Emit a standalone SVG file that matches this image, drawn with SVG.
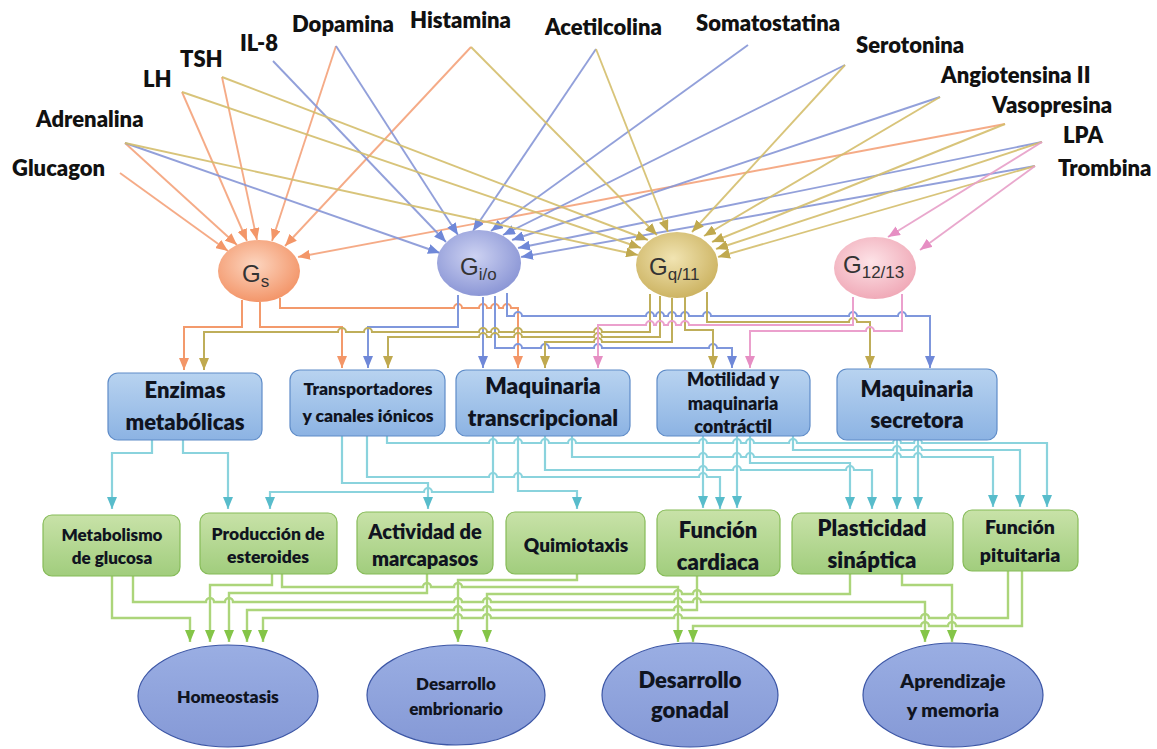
<svg xmlns="http://www.w3.org/2000/svg" width="1157" height="749" viewBox="0 0 1157 749">
<defs>
<style>
.lig{font-family:Lato,"Liberation Sans",sans-serif;font-weight:800;font-size:22px;fill:#111}
.gp{font-family:"Liberation Sans",Arial,sans-serif;font-size:24px;fill:#333}
.bt{font-family:Lato,"Liberation Sans",sans-serif;font-weight:800;fill:#10141f;text-anchor:middle}
.mbox{fill:url(#gBlue);stroke:#5f8cc8;stroke-width:1.2}
.gbox{fill:url(#gGreen);stroke:#86bb58;stroke-width:1.2}
.oval{fill:url(#gOval);stroke:#3d57a6;stroke-width:1.2}
.top path{fill:none;stroke-width:1.9;stroke-opacity:0.9}
.to{stroke:#f4a27a}
.tb{stroke:#8696d6}
.tq{stroke:#d4be6c}
.tp{stroke:#e79fc8}
.out path{fill:none;stroke-width:2}
.oo{stroke:#f39a6c}
.ob{stroke:#7f97dc}
.oq{stroke:#bfae5a}
.op{stroke:#eba0cd}
.teal path{fill:none;stroke:#8ad3dd;stroke-width:2.2}
.grn path{fill:none;stroke:#acd57a;stroke-width:2.4}
</style>
<linearGradient id="gBlue" x1="0" y1="0" x2="0" y2="1"><stop offset="0" stop-color="#b8d3f0"/><stop offset="1" stop-color="#8cb3e3"/></linearGradient>
<linearGradient id="gGreen" x1="0" y1="0" x2="0" y2="1"><stop offset="0" stop-color="#c8e2a8"/><stop offset="1" stop-color="#a1cd7d"/></linearGradient>
<linearGradient id="gOval" x1="0" y1="0" x2="0" y2="1"><stop offset="0" stop-color="#9aaee3"/><stop offset="1" stop-color="#8599d6"/></linearGradient>
<radialGradient id="rGs" cx="0.45" cy="0.4" r="0.6"><stop offset="0" stop-color="#fcd5bf"/><stop offset="1" stop-color="#f3966a"/></radialGradient>
<radialGradient id="rGi" cx="0.45" cy="0.4" r="0.6"><stop offset="0" stop-color="#cdd2f2"/><stop offset="1" stop-color="#8c97d6"/></radialGradient>
<radialGradient id="rGq" cx="0.45" cy="0.4" r="0.6"><stop offset="0" stop-color="#f1e4b2"/><stop offset="1" stop-color="#cdb463"/></radialGradient>
<radialGradient id="rG12" cx="0.45" cy="0.4" r="0.6"><stop offset="0" stop-color="#fde3e7"/><stop offset="1" stop-color="#f0aab8"/></radialGradient>
<marker id="aO" viewBox="0 0 12 10" refX="12" refY="5" markerWidth="12" markerHeight="10" markerUnits="userSpaceOnUse" orient="auto"><path d="M0,0 L12,5 L0,10 z" fill="#f39668"/></marker>
<marker id="aB" viewBox="0 0 12 10" refX="12" refY="5" markerWidth="12" markerHeight="10" markerUnits="userSpaceOnUse" orient="auto"><path d="M0,0 L12,5 L0,10 z" fill="#6f88d8"/></marker>
<marker id="aQ" viewBox="0 0 12 10" refX="12" refY="5" markerWidth="12" markerHeight="10" markerUnits="userSpaceOnUse" orient="auto"><path d="M0,0 L12,5 L0,10 z" fill="#c0a94f"/></marker>
<marker id="aP" viewBox="0 0 12 10" refX="12" refY="5" markerWidth="12" markerHeight="10" markerUnits="userSpaceOnUse" orient="auto"><path d="M0,0 L12,5 L0,10 z" fill="#e68ec3"/></marker>
<marker id="aT" viewBox="0 0 12 10" refX="12" refY="5" markerWidth="12" markerHeight="10" markerUnits="userSpaceOnUse" orient="auto"><path d="M0,0 L12,5 L0,10 z" fill="#58bccb"/></marker>
<marker id="aG" viewBox="0 0 12 10" refX="12" refY="5" markerWidth="12" markerHeight="10" markerUnits="userSpaceOnUse" orient="auto"><path d="M0,0 L12,5 L0,10 z" fill="#84c548"/></marker>
</defs>
<rect width="1157" height="749" fill="#ffffff"/>

<g id="connectors">
 <g class="top">
  <path class="to" d="M120,173 L228,251" marker-end="url(#aO)"/>
  <path class="to" d="M125,143 L237,245" marker-end="url(#aO)"/>
  <path class="to" d="M182,92 L247,241" marker-end="url(#aO)"/>
  <path class="to" d="M222,77 L257,240" marker-end="url(#aO)"/>
  <path class="to" d="M336,46 L272,241" marker-end="url(#aO)"/>
  <path class="to" d="M471,47 L285,246" marker-end="url(#aO)"/>
  <path class="to" d="M1005,124 L298,257" marker-end="url(#aO)"/>
  <path class="tb" d="M125,143 L440,253" marker-end="url(#aB)"/>
  <path class="tb" d="M273,61 L446,242" marker-end="url(#aB)"/>
  <path class="tb" d="M336,46 L458,235" marker-end="url(#aB)"/>
  <path class="tb" d="M596,49 L473,231" marker-end="url(#aB)"/>
  <path class="tb" d="M748,45 L491,231" marker-end="url(#aB)"/>
  <path class="tb" d="M845,65 L503,235" marker-end="url(#aB)"/>
  <path class="tb" d="M940,97 L512,240" marker-end="url(#aB)"/>
  <path class="tb" d="M1042,142 L518,248" marker-end="url(#aB)"/>
  <path class="tb" d="M1035,166 L521,257" marker-end="url(#aB)"/>
  <path class="tq" d="M125,143 L638,255" marker-end="url(#aQ)"/>
  <path class="tq" d="M182,92 L641,248" marker-end="url(#aQ)"/>
  <path class="tq" d="M222,77 L648,240" marker-end="url(#aQ)"/>
  <path class="tq" d="M471,47 L657,235" marker-end="url(#aQ)"/>
  <path class="tq" d="M596,49 L668,232" marker-end="url(#aQ)"/>
  <path class="tq" d="M845,65 L692,232" marker-end="url(#aQ)"/>
  <path class="tq" d="M940,97 L704,236" marker-end="url(#aQ)"/>
  <path class="tq" d="M1005,124 L712,242" marker-end="url(#aQ)"/>
  <path class="tq" d="M1042,142 L716,249" marker-end="url(#aQ)"/>
  <path class="tq" d="M1035,166 L718,257" marker-end="url(#aQ)"/>
  <path class="tp" d="M1042,142 L888,237" marker-end="url(#aP)"/>
  <path class="tp" d="M1035,166 L920,250" marker-end="url(#aP)"/>
 </g>
 <g class="out">
  <path class="oo" d="M242,300 V327 H184 V370" marker-end="url(#aO)"/>
  <path class="oo" d="M260,302 V327 H342 V368" marker-end="url(#aO)"/>
  <path class="oo" d="M280,298 V308 H454 a4,4 0 0 1 8,0 H479 a4,4 0 0 1 8,0 H491 a4,4 0 0 1 8,0 H503 a4,4 0 0 1 8,0 H518 V368" marker-end="url(#aO)"/>
  <path class="ob" d="M458,295 V327 H368 V368" marker-end="url(#aB)"/>
  <path class="ob" d="M483,297 V368" marker-end="url(#aB)"/>
  <path class="ob" d="M495,296 V348 H514 a4,4 0 0 1 8,0 H541 a4,4 0 0 1 8,0 H594 a4,4 0 0 1 8,0 H709 a4,4 0 0 1 8,0 H732 V368" marker-end="url(#aB)"/>
  <path class="ob" d="M507,293 V316 H514 a4,4 0 0 1 8,0 H646 a4,4 0 0 1 8,0 H656 a4,4 0 0 1 8,0 H668 a4,4 0 0 1 8,0 H681 a4,4 0 0 1 8,0 H703 a4,4 0 0 1 8,0 H849 a4,4 0 0 1 8,0 H898 a4,4 0 0 1 8,0 H930 V368" marker-end="url(#aB)"/>
  <path class="oq" d="M650,294 V332 H602 a4,4 0 0 0 -8,0 H522 a4,4 0 0 0 -8,0 H499 a4,4 0 0 0 -8,0 H487 a4,4 0 0 0 -8,0 H372 a4,4 0 0 0 -8,0 H346 a4,4 0 0 0 -8,0 H204 V370" marker-end="url(#aQ)"/>
  <path class="oq" d="M660,296 V337 H602 a4,4 0 0 0 -8,0 H522 a4,4 0 0 0 -8,0 H499 a4,4 0 0 0 -8,0 H487 a4,4 0 0 0 -8,0 H388 V368" marker-end="url(#aQ)"/>
  <path class="oq" d="M672,298 V342 H602 a4,4 0 0 0 -8,0 H545 V368" marker-end="url(#aQ)"/>
  <path class="oq" d="M685,297 V330 H713 V368" marker-end="url(#aQ)"/>
  <path class="oq" d="M707,292 V322 H849 a4,4 0 0 1 8,0 H870 V368" marker-end="url(#aQ)"/>
  <path class="op" d="M853,297 V325 H689 a4,4 0 0 0 -8,0 H676 a4,4 0 0 0 -8,0 H664 a4,4 0 0 0 -8,0 H654 a4,4 0 0 0 -8,0 H598 V368" marker-end="url(#aP)"/>
  <path class="op" d="M902,294 V331 H874 a4,4 0 0 0 -8,0 H750 V368" marker-end="url(#aP)"/>
 </g>
 <g class="teal">
  <path d="M152,440 V453 H112 V509" marker-end="url(#aT)"/>
  <path d="M183,440 V453 H228 V509" marker-end="url(#aT)"/>
  <path d="M493,436 V492 H432 a4,4 0 0 0 -8,0 H270 V509" marker-end="url(#aT)"/>
  <path d="M342,436 V483 H428 V509" marker-end="url(#aT)"/>
  <path d="M367,436 V477 H489 a4,4 0 0 1 8,0 H514 a4,4 0 0 1 8,0 H699 a4,4 0 0 1 8,0 H720 V509" marker-end="url(#aT)"/>
  <path d="M387,436 V443 H489 a4,4 0 0 1 8,0 H514 a4,4 0 0 1 8,0 H541 a4,4 0 0 1 8,0 H568 a4,4 0 0 1 8,0 H699 a4,4 0 0 1 8,0 H733 a4,4 0 0 1 8,0 H746 a4,4 0 0 1 8,0 H789 a4,4 0 0 1 8,0 H893 a4,4 0 0 1 8,0 H914 a4,4 0 0 1 8,0 H1047 V507" marker-end="url(#aT)"/>
  <path d="M518,436 V491 H577 V509" marker-end="url(#aT)"/>
  <path d="M545,436 V470 H699 a4,4 0 0 1 8,0 H733 a4,4 0 0 1 8,0 H846 a4,4 0 0 1 8,0 H872 V509" marker-end="url(#aT)"/>
  <path d="M572,436 V457 H699 a4,4 0 0 1 8,0 H733 a4,4 0 0 1 8,0 H746 a4,4 0 0 1 8,0 H893 a4,4 0 0 1 8,0 H914 a4,4 0 0 1 8,0 H993 V507" marker-end="url(#aT)"/>
  <path d="M703,436 V508" marker-end="url(#aT)"/>
  <path d="M737,436 V508" marker-end="url(#aT)"/>
  <path d="M750,436 V463 H850 V509" marker-end="url(#aT)"/>
  <path d="M793,436 V450 H893 a4,4 0 0 1 8,0 H914 a4,4 0 0 1 8,0 H1020 V507" marker-end="url(#aT)"/>
  <path d="M897,440 V509" marker-end="url(#aT)"/>
  <path d="M918,440 V509" marker-end="url(#aT)"/>
 </g>
 <g class="grn">
  <path d="M112,576 V618 H190 V642" marker-end="url(#aG)"/>
  <path d="M272,574 V585 H210 V642" marker-end="url(#aG)"/>
  <path d="M427,574 V593 H229 V642" marker-end="url(#aG)"/>
  <path d="M697,576 V610 H682 a4,4 0 0 0 -8,0 H491 a4,4 0 0 0 -8,0 H462 a4,4 0 0 0 -8,0 H247 V642" marker-end="url(#aG)"/>
  <path d="M1008,571 V618 H956 a4,4 0 0 0 -8,0 H929 a4,4 0 0 0 -8,0 H682 a4,4 0 0 0 -8,0 H491 a4,4 0 0 0 -8,0 H462 a4,4 0 0 0 -8,0 H263 V642" marker-end="url(#aG)"/>
  <path d="M577,574 V580 H458 V642" marker-end="url(#aG)"/>
  <path d="M850,574 V594 H701 a4,4 0 0 0 -8,0 H682 a4,4 0 0 0 -8,0 H487 V642" marker-end="url(#aG)"/>
  <path d="M282,574 V587 H423 a4,4 0 0 1 8,0 H454 a4,4 0 0 1 8,0 H678 V642" marker-end="url(#aG)"/>
  <path d="M1022,571 V626 H956 a4,4 0 0 0 -8,0 H929 a4,4 0 0 0 -8,0 H693 V642" marker-end="url(#aG)"/>
  <path d="M133,576 V602 H206 a4,4 0 0 1 8,0 H225 a4,4 0 0 1 8,0 H454 a4,4 0 0 1 8,0 H483 a4,4 0 0 1 8,0 H674 a4,4 0 0 1 8,0 H693 a4,4 0 0 1 8,0 H925 V642" marker-end="url(#aG)"/>
  <path d="M902,574 V585 H952 V642" marker-end="url(#aG)"/>
 </g>
</g>

<g id="ligands">
 <text id="glucagon" class="lig" x="12" y="176">Glucagon</text>
 <text id="adrenalina" class="lig" x="36" y="127">Adrenalina</text>
 <text id="lh" class="lig" x="143" y="87">LH</text>
 <text id="tsh" class="lig" x="180" y="67">TSH</text>
 <text id="il8" class="lig" x="240" y="51">IL-8</text>
 <text id="dopamina" class="lig" x="292" y="32" font-size="18.5">Dopamina</text>
 <text id="histamina" class="lig" x="410" y="28">Histamina</text>
 <text id="acetilcolina" class="lig" x="545" y="35">Acetilcolina</text>
 <text id="somatostatina" class="lig" x="696" y="31" font-size="18.5">Somatostatina</text>
 <text id="serotonina" class="lig" x="856" y="53">Serotonina</text>
 <text id="angiotensina" class="lig" x="941" y="83">Angiotensina II</text>
 <text id="vasopresina" class="lig" x="992" y="113">Vasopresina</text>
 <text id="lpa" class="lig" x="1063" y="143">LPA</text>
 <text id="trombina" class="lig" x="1058" y="176">Trombina</text>
</g>

<g id="Gs"><ellipse cx="259" cy="271" rx="41" ry="31" fill="url(#rGs)"/><text class="gp" x="242" y="282">G<tspan font-size="17" dy="5">s</tspan></text></g>
<g id="Gio"><ellipse cx="479" cy="263" rx="42" ry="33" fill="url(#rGi)"/><text class="gp" x="460" y="275">G<tspan font-size="17" dy="5">i/o</tspan></text></g>
<g id="Gq11"><ellipse cx="677" cy="265" rx="41" ry="33" fill="url(#rGq)"/><text class="gp" x="649" y="275">G<tspan font-size="17" dy="5">q/11</tspan></text></g>
<g id="G1213"><ellipse cx="875" cy="268" rx="41" ry="31" fill="url(#rG12)"/><text class="gp" x="843" y="273">G<tspan font-size="17" dy="5">12/13</tspan></text></g>

<g id="enzimas"><rect class="mbox" x="108" y="373" width="154" height="67" rx="10"/><text class="bt" font-size="22" x="185" y="398">Enzimas</text><text class="bt" font-size="22" x="185" y="430">metabólicas</text></g>
<g id="transportadores"><rect class="mbox" x="290" y="370" width="155" height="66" rx="10"/><text class="bt" font-size="17.5" x="368" y="395">Transportadores</text><text class="bt" font-size="17.5" x="368" y="422">y canales iónicos</text></g>
<g id="transcripcional"><rect class="mbox" x="456" y="370" width="174" height="66" rx="10"/><text class="bt" font-size="22.5" x="543" y="394">Maquinaria</text><text class="bt" font-size="22.5" x="543" y="426">transcripcional</text></g>
<g id="motilidad"><rect class="mbox" x="657" y="370" width="153" height="66" rx="10"/><text class="bt" font-size="18" x="733" y="386">Motilidad y</text><text class="bt" font-size="18" x="733" y="410">maquinaria</text><text class="bt" font-size="18" x="733" y="433">contráctil</text></g>
<g id="secretora"><rect class="mbox" x="837" y="369" width="160" height="71" rx="10"/><text class="bt" font-size="22" x="917" y="397">Maquinaria</text><text class="bt" font-size="22" x="917" y="428">secretora</text></g>

<g id="metabolismo"><rect class="gbox" x="43" y="515" width="137" height="61" rx="9"/><text class="bt" font-size="17" x="112" y="541">Metabolismo</text><text class="bt" font-size="17" x="112" y="564">de glucosa</text></g>
<g id="esteroides"><rect class="gbox" x="200" y="513" width="137" height="61" rx="9"/><text class="bt" font-size="17.5" x="268" y="540">Producción de</text><text class="bt" font-size="17.5" x="268" y="563">esteroides</text></g>
<g id="marcapasos"><rect class="gbox" x="357" y="512" width="136" height="62" rx="9"/><text class="bt" font-size="20" x="425" y="539">Actividad de</text><text class="bt" font-size="20" x="425" y="566">marcapasos</text></g>
<g id="quimiotaxis"><rect class="gbox" x="506" y="512" width="139" height="62" rx="9"/><text class="bt" font-size="19" x="576" y="552">Quimiotaxis</text></g>
<g id="cardiaca"><rect class="gbox" x="657" y="510" width="123" height="66" rx="9"/><text class="bt" font-size="22" x="718" y="538">Función</text><text class="bt" font-size="22" x="718" y="570">cardiaca</text></g>
<g id="plasticidad"><rect class="gbox" x="792" y="513" width="161" height="61" rx="9"/><text class="bt" font-size="22" x="872" y="536">Plasticidad</text><text class="bt" font-size="22" x="872" y="568">sináptica</text></g>
<g id="pituitaria"><rect class="gbox" x="963" y="510" width="115" height="61" rx="9"/><text class="bt" font-size="19.5" x="1020" y="534">Función</text><text class="bt" font-size="19.5" x="1020" y="562">pituitaria</text></g>

<g id="homeostasis"><ellipse class="oval" cx="228" cy="696" rx="90" ry="51"/><text class="bt" font-size="17.5" x="228" y="703">Homeostasis</text></g>
<g id="embrionario"><ellipse class="oval" cx="456" cy="695" rx="89" ry="50"/><text class="bt" font-size="17" x="456" y="690">Desarrollo</text><text class="bt" font-size="17" x="456" y="715">embrionario</text></g>
<g id="gonadal"><ellipse class="oval" cx="690" cy="695" rx="88" ry="52"/><text class="bt" font-size="22" x="690" y="688">Desarrollo</text><text class="bt" font-size="22" x="690" y="718">gonadal</text></g>
<g id="aprendizaje"><ellipse class="oval" cx="953" cy="695" rx="90" ry="52"/><text class="bt" font-size="19.5" x="953" y="688">Aprendizaje</text><text class="bt" font-size="19.5" x="953" y="717">y memoria</text></g>
</svg>
